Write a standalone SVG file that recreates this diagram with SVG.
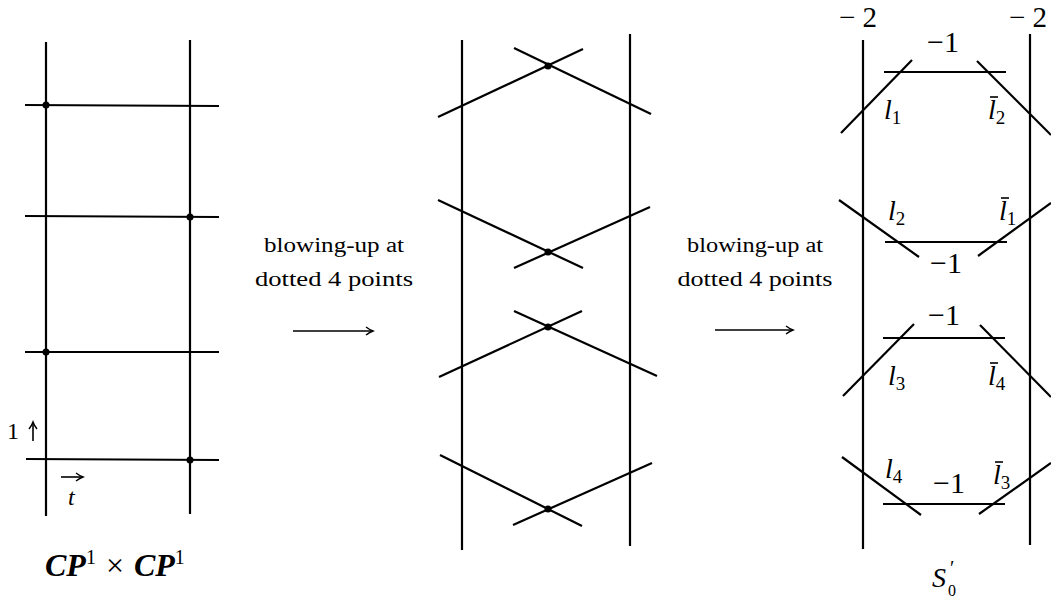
<svg xmlns="http://www.w3.org/2000/svg" width="1051" height="597" viewBox="0 0 1051 597">
<style>
.ln{stroke:#000;stroke-width:2.2;fill:none;stroke-linecap:butt}
.ar{stroke:#000;stroke-width:1.6;fill:none}
.dot{fill:#000}
.bar{stroke:#000;stroke-width:1.6}
text{font-family:'Liberation Serif','DejaVu Serif',serif;fill:#000}
.m{font-style:italic}
.s{font-style:normal;font-size:19px}
.n{font-size:30px}
</style>
<defs>
<marker id="ah" markerWidth="10" markerHeight="10" refX="8" refY="5" orient="auto" markerUnits="userSpaceOnUse">
<path d="M1,1 Q5,4 8,5 Q5,6 1,9" fill="none" stroke="#000" stroke-width="1.4"/>
</marker>
</defs>
<rect width="1051" height="597" fill="#fff"/>

<g id="panel1">
<line class="ln" x1="46" y1="42" x2="46" y2="516"/>
<line class="ln" x1="190" y1="40" x2="190" y2="514"/>
<line class="ln" x1="25" y1="105" x2="219" y2="106"/>
<line class="ln" x1="25" y1="216" x2="219" y2="217"/>
<line class="ln" x1="25" y1="352" x2="219" y2="352"/>
<line class="ln" x1="26" y1="459" x2="219" y2="460"/>
<circle class="dot" cx="46" cy="105" r="3.5"/>
<circle class="dot" cx="190" cy="217" r="3.5"/>
<circle class="dot" cx="46" cy="352" r="3.5"/>
<circle class="dot" cx="190" cy="460" r="3.5"/>
<text x="7" y="439" font-size="24">1</text>
<line class="ar" x1="33" y1="441" x2="33" y2="422" marker-end="url(#ah)"/>
<line class="ar" x1="61" y1="477" x2="83" y2="477" marker-end="url(#ah)"/>
<text class="m" x="68" y="505" font-size="24">t</text>
<text x="45" y="576" font-size="32" font-weight="bold"><tspan font-style="italic">CP</tspan><tspan font-size="20" dy="-12" font-weight="normal">1</tspan><tspan dy="12" font-weight="normal" dx="10">×</tspan><tspan font-style="italic" dx="10">CP</tspan><tspan font-size="20" dy="-12" font-weight="normal">1</tspan></text>
</g>

<g id="panel2">
<line class="ln" x1="462" y1="40" x2="462" y2="550"/>
<line class="ln" x1="630" y1="34" x2="630" y2="546"/>
<line class="ln" x1="438" y1="117" x2="583" y2="49"/>
<line class="ln" x1="514" y1="48" x2="651" y2="114"/>
<line class="ln" x1="438" y1="200" x2="583" y2="268"/>
<line class="ln" x1="514" y1="268" x2="650" y2="207"/>
<line class="ln" x1="439" y1="377" x2="582" y2="311"/>
<line class="ln" x1="514" y1="311" x2="657" y2="376"/>
<line class="ln" x1="440" y1="455" x2="582" y2="526"/>
<line class="ln" x1="513" y1="525" x2="652" y2="463"/>
<circle class="dot" cx="548" cy="66" r="3.5"/>
<circle class="dot" cx="548" cy="252" r="3.5"/>
<circle class="dot" cx="548" cy="327" r="3.5"/>
<circle class="dot" cx="548" cy="509" r="3.5"/>
</g>

<g id="panel3">
<line class="ln" x1="863" y1="40" x2="863" y2="549"/>
<line class="ln" x1="1030" y1="34" x2="1030" y2="545"/>
<text x="839" y="27" font-size="29">− 2</text>
<text x="1009" y="27" font-size="29">− 2</text>
<line class="ln" x1="884" y1="72" x2="1006" y2="72"/>
<line class="ln" x1="841" y1="133" x2="912" y2="60"/>
<line class="ln" x1="977" y1="61" x2="1051" y2="135"/>
<text class="n" x="927" y="52">−1</text>
<text class="m" x="884" y="119" font-size="28">l<tspan class="s" dy="5">1</tspan></text>
<text class="m" x="988" y="119" font-size="28">l<tspan class="s" dy="5">2</tspan></text>
<line class="bar" x1="990" y1="97" x2="998" y2="97"/>

<line class="ln" x1="885" y1="242" x2="1007" y2="242"/>
<line class="ln" x1="839" y1="200" x2="919" y2="257"/>
<line class="ln" x1="978" y1="256" x2="1051" y2="203"/>
<text class="m" x="888" y="220" font-size="28">l<tspan class="s" dy="5">2</tspan></text>
<text class="m" x="999" y="220" font-size="28">l<tspan class="s" dy="5">1</tspan></text>
<line class="bar" x1="1001" y1="198" x2="1009" y2="198"/>
<text class="n" x="930" y="273">−1</text>

<line class="ln" x1="883" y1="338" x2="1005" y2="338"/>
<line class="ln" x1="843" y1="396" x2="914" y2="324"/>
<line class="ln" x1="980" y1="325" x2="1051" y2="397"/>
<text class="n" x="928" y="325">−1</text>
<text class="m" x="888" y="385" font-size="28">l<tspan class="s" dy="5">3</tspan></text>
<text class="m" x="988" y="385" font-size="28">l<tspan class="s" dy="5">4</tspan></text>
<line class="bar" x1="990" y1="363" x2="998" y2="363"/>

<line class="ln" x1="883" y1="504" x2="1005" y2="504"/>
<line class="ln" x1="842" y1="457" x2="921" y2="515"/>
<line class="ln" x1="979" y1="514" x2="1051" y2="463"/>
<text class="m" x="885" y="478" font-size="28">l<tspan class="s" dy="5">4</tspan></text>
<text class="n" x="933" y="493">−1</text>
<text class="m" x="993" y="484" font-size="28">l<tspan class="s" dy="5">3</tspan></text>
<line class="bar" x1="995" y1="462" x2="1003" y2="462"/>

<text class="m" x="932" y="587" font-size="28">S</text>
<text x="950" y="575" font-size="20">′</text>
<text x="948" y="596" font-size="16">0</text>
</g>

<g id="connectors">
<text x="334" y="252" font-size="20" text-anchor="middle" textLength="140" lengthAdjust="spacingAndGlyphs">blowing-up at</text>
<text x="334" y="286" font-size="20" text-anchor="middle" textLength="158" lengthAdjust="spacingAndGlyphs">dotted 4 points</text>
<line class="ar" x1="293" y1="331" x2="373" y2="331" marker-end="url(#ah)"/>
<text x="755" y="252" font-size="20" text-anchor="middle" textLength="136" lengthAdjust="spacingAndGlyphs">blowing-up at</text>
<text x="755" y="286" font-size="20" text-anchor="middle" textLength="155" lengthAdjust="spacingAndGlyphs">dotted 4 points</text>
<line class="ar" x1="715" y1="330" x2="793" y2="330" marker-end="url(#ah)"/>
</g>
</svg>
